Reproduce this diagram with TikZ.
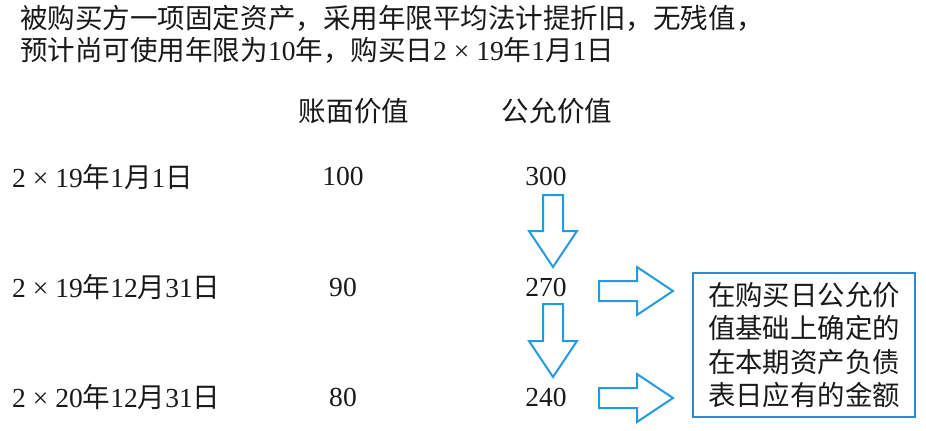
\documentclass[tikz,border=0pt]{standalone}
\usepackage{fontspec}
\setmainfont{Liberation Serif}
\newfontfamily\zhfont{Noto Sans CJK SC}
\newcommand{\zh}[1]{{\zhfont #1}}
\usetikzlibrary{calc,positioning}
\definecolor{arrowblue}{RGB}{35,155,220}
\definecolor{boxblue}{RGB}{45,140,205}
\definecolor{inkblack}{RGB}{25,25,25}
\tikzset{
  plaintext/.style={inner sep=0pt, text=inkblack, font=\fontsize{23.5}{28}\selectfont},
  titletext/.style={plaintext, anchor=west},
  headtext/.style={plaintext, font=\fontsize{23.5}{28}\zhfont},
  datetext/.style={plaintext, anchor=west},
  valtext/.style={plaintext},
  blockarrow/.style={draw=arrowblue, line width=1.7pt, line join=miter, fill=white},
  notebox/.style={draw=boxblue, line width=1.7pt, minimum width=66.6mm, minimum height=43.2mm,
    align=left, text=inkblack, font=\fontsize{23.4}{28.4}\zhfont},
}
% outlined block arrow from #1 to #2
\newcommand{\blockarr}[2]{%
  \coordinate (ba-h) at ($(#2)!10.8mm!(#1)$);
  \draw[blockarrow] ($(#1)!3mm!90:(#2)$) -- ($(ba-h)!3mm!-90:(#1)$)
    -- ($(ba-h)!7.2mm!-90:(#1)$) -- (#2) -- ($(ba-h)!7.2mm!90:(#1)$)
    -- ($(ba-h)!3mm!90:(#1)$) -- ($(#1)!3mm!-90:(#2)$) -- cycle;
}

\begin{document}
\begin{tikzpicture}[x=0.3mm, y=-0.3mm]
    \useasboundingbox (0,0) rectangle (926,430);
    % Title
    \node[titletext] (t1) at (20,18) {\zh{被购买方一项固定资产，采用年限平均法计提折旧，无残值，}};
    \node[titletext] (t2) at (20,50) {\zh{预计尚可使用年限为}10\zh{年，购买日}2 × 19\zh{年}1\zh{月}1\zh{日}};
    % Column heads
    \node[headtext] (hbook) at (354,111) {账面价值};
    \node[headtext] (hfair) at (557,111) {公允价值};
    % Rows
    \node[datetext] (d1) at (12,177) {2 × 19\zh{年}1\zh{月}1\zh{日}};
    \node[datetext] (d2) at (12,287) {2 × 19\zh{年}12\zh{月}31\zh{日}};
    \node[datetext] (d3) at (12,397) {2 × 20\zh{年}12\zh{月}31\zh{日}};
    \node[valtext] (b1) at (343,176) {100};
    \node[valtext] (b2) at (343,287) {90};
    \node[valtext] (b3) at (343,397) {80};
    \node[valtext] (f1) at (546,176) {300};
    \node[valtext] (f2) at (546,287) {270};
    \node[valtext] (f3) at (546,397) {240};
    % Note
    \node[notebox] (note) at (804,345) {在购买日公允价\\值基础上确定的\\在本期资产负债\\表日应有的金额};
    % Arrows
    \coordinate (a1s) at (553,195);
    \coordinate (a1e) at (553,267);
    \coordinate (a2s) at (553,304);
    \coordinate (a2e) at (553,377);
    \coordinate (r1s) at (599,291);
    \coordinate (r1e) at (673,291);
    \coordinate (r2s) at (599,398);
    \coordinate (r2e) at (673,398);
    \blockarr{a1s}{a1e}
    \blockarr{a2s}{a2e}
    \blockarr{r1s}{r1e}
    \blockarr{r2s}{r2e}
\end{tikzpicture}
\end{document}
